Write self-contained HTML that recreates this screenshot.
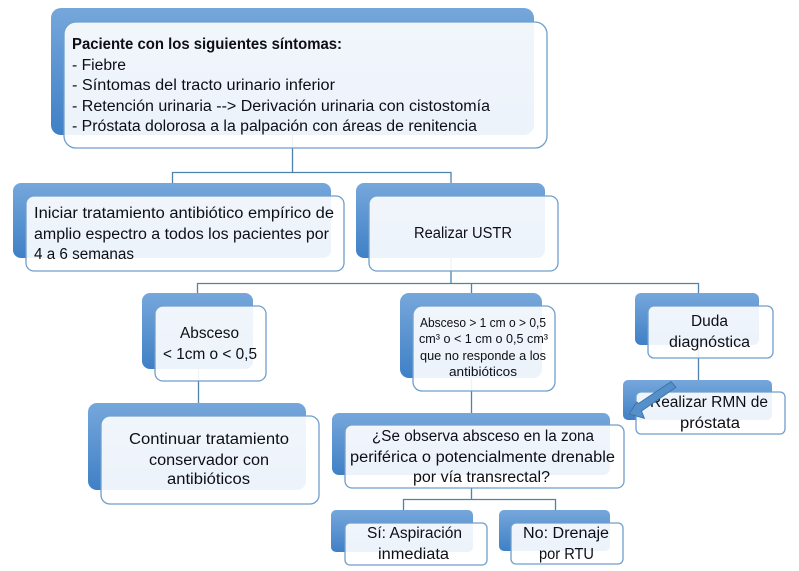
<!DOCTYPE html>
<html><head><meta charset="utf-8"><style>
html,body{margin:0;padding:0;background:#fff}
svg{display:block}
text{font-family:"Liberation Sans",sans-serif;font-size:15.500px;fill:#0e0e16}
.b{fill:url(#g)}
.f{fill:#fff;fill-opacity:.9;stroke:#6f9fcd;stroke-width:1.3}
.l{stroke:#4f82ad;stroke-width:1.300;fill:none}
</style></head><body>
<svg width="799" height="571" viewBox="0 0 799 571" xmlns="http://www.w3.org/2000/svg">
<defs><linearGradient id="g" x1="0" y1="0" x2="0" y2="1"><stop offset="0" stop-color="#76a7db"/><stop offset="1" stop-color="#3f80c6"/></linearGradient></defs>
<path class="l" d="M292.500 135V172.500M172.500 183V172.500H451V183M451 258V283.500M197.500 293V283.500H698.500V293M471.500 283.500V293M198.500 369V403M471.500 378V413M698.500 345V380M471.500 488V499.500M403.500 510V499.500H555.500V510"/>
<rect class="b" x="51" y="8" width="483" height="127" rx="10"/>
<rect class="f" x="64" y="22" width="483" height="126" rx="12"/>
<rect class="b" x="13" y="183" width="318" height="75" rx="8"/>
<rect class="f" x="26" y="196" width="318" height="75" rx="8"/>
<rect class="b" x="356" y="183" width="189" height="75" rx="8"/>
<rect class="f" x="369" y="196" width="189" height="75" rx="8"/>
<rect class="b" x="142" y="293" width="111" height="76" rx="8"/>
<rect class="f" x="155" y="306" width="111" height="75" rx="8"/>
<rect class="b" x="400" y="293" width="142" height="85" rx="9"/>
<rect class="f" x="413" y="306" width="142" height="85" rx="9"/>
<rect class="b" x="635" y="293" width="124" height="52" rx="6"/>
<rect class="f" x="648" y="306" width="125" height="52" rx="6"/>
<rect class="b" x="88" y="403" width="218" height="87" rx="9"/>
<rect class="f" x="101" y="416" width="218" height="88" rx="9"/>
<rect class="b" x="332" y="413" width="278" height="62" rx="7"/>
<rect class="f" x="345" y="425" width="279" height="63" rx="7"/>
<rect class="b" x="331" y="510" width="142" height="42" rx="5"/>
<rect class="f" x="345" y="523" width="142" height="42" rx="5"/>
<rect class="b" x="499" y="510" width="111" height="41" rx="5"/>
<rect class="f" x="511" y="523" width="112" height="41" rx="5"/>
<rect class="b" x="623" y="380" width="149" height="40" rx="5"/>
<rect class="f" x="636" y="392" width="149" height="42" rx="5"/>
<text x="72" y="49" textLength="270" lengthAdjust="spacingAndGlyphs" style="font-weight:bold">Paciente con los siguientes síntomas:</text>
<text x="72" y="70" textLength="54" lengthAdjust="spacingAndGlyphs">- Fiebre</text>
<text x="72" y="90" textLength="263" lengthAdjust="spacingAndGlyphs">- Síntomas del tracto urinario inferior</text>
<text x="72" y="111" textLength="418" lengthAdjust="spacingAndGlyphs">- Retención urinaria --&gt; Derivación urinaria con cistostomía</text>
<text x="72" y="131" textLength="405" lengthAdjust="spacingAndGlyphs">- Próstata dolorosa a la palpación con áreas de renitencia</text>
<text x="34" y="218" textLength="300" lengthAdjust="spacingAndGlyphs">Iniciar tratamiento antibiótico empírico de</text>
<text x="34" y="239" textLength="295" lengthAdjust="spacingAndGlyphs">amplio espectro a todos los pacientes por</text>
<text x="34" y="259" textLength="100" lengthAdjust="spacingAndGlyphs">4 a 6 semanas</text>
<text x="414" y="238" textLength="98" lengthAdjust="spacingAndGlyphs">Realizar USTR</text>
<text x="180" y="338" textLength="59" lengthAdjust="spacingAndGlyphs">Absceso</text>
<text x="163" y="359" textLength="94" lengthAdjust="spacingAndGlyphs">&lt; 1cm o &lt; 0,5</text>
<text style="font-size:12.500px" x="420" y="327" textLength="126" lengthAdjust="spacingAndGlyphs">Absceso &gt; 1 cm o &gt; 0,5</text>
<text style="font-size:12.500px" x="419" y="343" textLength="129" lengthAdjust="spacingAndGlyphs">cm³ o &lt; 1 cm o 0,5 cm³</text>
<text style="font-size:12.500px" x="420" y="360" textLength="126" lengthAdjust="spacingAndGlyphs">que no responde a los</text>
<text style="font-size:12.500px" x="449" y="376" textLength="68" lengthAdjust="spacingAndGlyphs">antibióticos</text>
<text x="691" y="326" textLength="37" lengthAdjust="spacingAndGlyphs">Duda</text>
<text x="669" y="347" textLength="81" lengthAdjust="spacingAndGlyphs">diagnóstica</text>
<text x="650" y="407" textLength="118" lengthAdjust="spacingAndGlyphs">Realizar RMN de</text>
<text x="680" y="428" textLength="60" lengthAdjust="spacingAndGlyphs">próstata</text>
<text x="129" y="444" textLength="160" lengthAdjust="spacingAndGlyphs">Continuar tratamiento</text>
<text x="149" y="465" textLength="120" lengthAdjust="spacingAndGlyphs">conservador con</text>
<text x="167" y="484" textLength="83" lengthAdjust="spacingAndGlyphs">antibióticos</text>
<text x="372" y="441" textLength="222" lengthAdjust="spacingAndGlyphs">¿Se observa absceso en la zona</text>
<text x="350" y="462" textLength="265" lengthAdjust="spacingAndGlyphs">periférica o potencialmente drenable</text>
<text x="413" y="482" textLength="137" lengthAdjust="spacingAndGlyphs">por vía transrectal?</text>
<text x="367" y="538" textLength="95" lengthAdjust="spacingAndGlyphs">Sí: Aspiración</text>
<text x="378" y="559" textLength="71" lengthAdjust="spacingAndGlyphs">inmediata</text>
<text x="523" y="538" textLength="86" lengthAdjust="spacingAndGlyphs">No: Drenaje</text>
<text x="539" y="559" textLength="55" lengthAdjust="spacingAndGlyphs">por RTU</text>
<polygon points="629.300,414 636.700,402 638.500,403.500 671,381.700 676,387.300 641.500,411 644.300,418.300" fill="#5590cb" stroke="#3f76a8" stroke-width="1"/>
</svg>
</body></html>
